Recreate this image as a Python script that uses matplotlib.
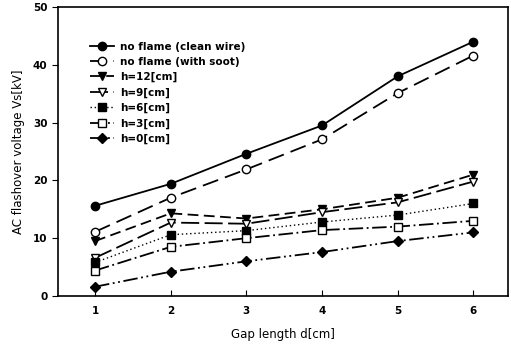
import matplotlib
matplotlib.use("Agg")
import matplotlib.pyplot as plt

# gap length d [cm]
gap = [1, 2, 3, 4, 5, 6]

# flashover voltage Vs [kV]
clean_wire = [15.6, 19.4, 24.6, 29.5, 38.0, 44.0]
with_soot = [11.1, 17.0, 21.9, 27.1, 35.1, 41.6]
h12 = [9.5, 14.3, 13.4, 15.0, 17.0, 21.0]
h9 = [6.6, 12.7, 12.5, 14.5, 16.2, 19.8]
h6 = [5.8, 10.6, 11.3, 12.8, 14.0, 16.0]
h3 = [4.4, 8.5, 10.0, 11.4, 12.0, 13.0]
h0 = [1.6, 4.2, 6.0, 7.6, 9.5, 11.0]

labels = ["no flame (clean wire)", "no flame (with soot)", "h=12[cm]",
          "h=9[cm]", "h=6[cm]", "h=3[cm]", "h=0[cm]"]

fig = plt.figure(figsize=(5.11, 3.47), dpi=100)
ax = fig.add_axes([0.1135, 0.147, 0.881, 0.833])

lw = 1.3
ax.plot(gap, clean_wire, color="black", lw=lw, ls="-", marker="o", ms=6,
        mfc="black", label=labels[0])
ax.plot(gap, with_soot, color="black", lw=lw, ls=(0, (9, 4)), marker="o", ms=6,
        mfc="white", label=labels[1])
ax.plot(gap, h12, color="black", lw=lw, ls=(0, (6, 3)), marker="v", ms=6,
        mfc="black", label=labels[2])
ax.plot(gap, h9, color="black", lw=lw, ls=(0, (10, 3)), marker="v", ms=6,
        mfc="white", label=labels[3])
ax.plot(gap, h6, color="black", lw=1.0, ls=(0, (1, 2)), marker="s", ms=5.5,
        mfc="black", label=labels[4])
ax.plot(gap, h3, color="black", lw=lw, ls=(0, (8, 2, 1, 2)), marker="s", ms=5.5,
        mfc="white", label=labels[5])
ax.plot(gap, h0, color="black", lw=lw, ls=(0, (8, 2, 1, 2, 1, 2)), marker="D", ms=5.5,
        mfc="black", label=labels[6])

ax.set_xlim(0.51, 6.46)
ax.set_ylim(0, 50)
ax.set_xticks(gap)
ax.set_yticks([0, 10, 20, 30, 40, 50])
ax.tick_params(axis="x", direction="in", length=4, labelsize=7.5, pad=7)
ax.tick_params(axis="y", direction="out", length=4, labelsize=7.5)
for lab in ax.get_xticklabels() + ax.get_yticklabels():
    lab.set_fontweight("bold")
for sp in ax.spines.values():
    sp.set_linewidth(1.2)

ax.set_xlabel("Gap length d[cm]", fontsize=8.5, labelpad=9)
ax.set_ylabel("AC flashover voltage Vs[kV]", fontsize=8.5, labelpad=6)

leg = ax.legend(loc="upper left", bbox_to_anchor=(0.055, 0.905), frameon=False,
                prop={"size": 7.5, "weight": "bold"}, handlelength=2.3,
                handletextpad=0.6, labelspacing=0.5, borderpad=0.2)

fig.savefig("out.png", dpi=100)
